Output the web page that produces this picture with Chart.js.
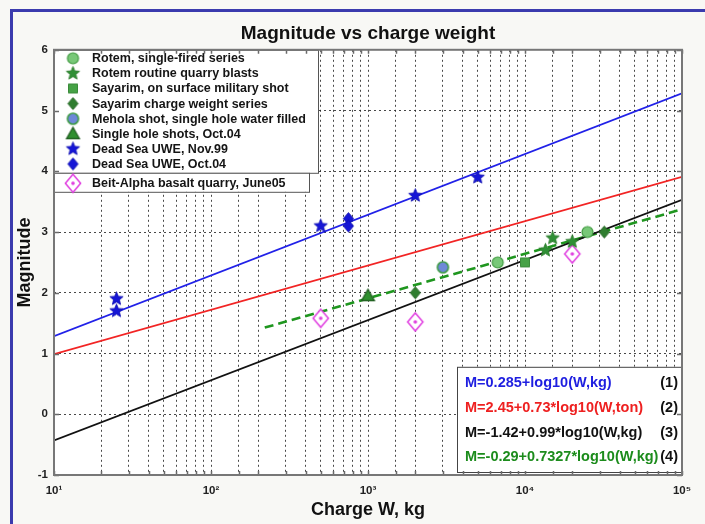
<!DOCTYPE html>
<html>
<head>
<meta charset="utf-8">
<script src="https://cdn.jsdelivr.net/npm/chart.js@4.4.1/dist/chart.umd.min.js"></script>
<style>
  html, body { margin: 0; padding: 0; background: #f8f8f5; }
  #wrap { position: relative; width: 705px; height: 524px; overflow: hidden; }
  #frame { position: absolute; left: 10px; top: 9px; width: 760px; height: 580px;
           border-left: 3px solid #3b3bae; border-top: 3px solid #3b3bae; box-sizing: border-box; }
  #c { position: absolute; left: 0; top: 0; }
</style>
</head>
<body>
<div id="wrap">
  <div id="frame"></div>
  <canvas id="c" width="705" height="524"></canvas>
</div>
<script>
// ---- measured events: charge W (kg) and magnitude M ----
const rotemSingleW   = [6700, 25000];
const rotemSingleM   = [2.50, 3.00];
const rotemQuarryW   = [13500, 15000, 20000];
const rotemQuarryM   = [2.70, 2.90, 2.84];
const sayarimSurfW   = [10000];
const sayarimSurfM   = [2.50];
const sayarimSeriesW = [2000, 32000];
const sayarimSeriesM = [2.00, 3.00];
const meholaW        = [3000];
const meholaM        = [2.42];
const singleHoleW    = [1000];
const singleHoleM    = [1.95];
const deadSea99W     = [25, 25, 500, 2000, 5000];
const deadSea99M     = [1.90, 1.70, 3.10, 3.60, 3.90];
const deadSea04W     = [750, 750];
const deadSea04M     = [3.22, 3.10];
const beitAlphaW     = [500, 2000, 20000];
const beitAlphaM     = [1.58, 1.52, 2.64];

// ---- magnitude relations M = a + b*log10(W / unit) ----
const fitLabels     = ['M=0.285+log10(W,kg)', 'M=2.45+0.73*log10(W,ton)',
                       'M=-1.42+0.99*log10(W,kg)', 'M=-0.29+0.7327*log10(W,kg)'];
const fitTags       = ['(1)', '(2)', '(3)', '(4)'];
const fitIntercepts = [0.285, 2.45, -1.42, -0.29];
const fitSlopes     = [1, 0.73, 0.99, 0.7327];
const fitUnits      = [1, 1000, 1, 1];       // kg per unit of W in each relation
const fitFromW      = [10, 10, 10, 220];
const fitToW        = [1e5, 1e5, 1e5, 1e5];

// ---- axes ----
const xMin = 10, xMax = 1e5;
const yMin = -1, yMax = 6;
const chartTitle = 'Magnitude vs charge weight';
const xTitle = 'Charge W, kg';
const yTitle = 'Magnitude';

const FONT = '"Liberation Sans", Arial, Helvetica, sans-serif';
const SUP = ['\u2070', '\u00b9', '\u00b2', '\u00b3', '\u2074', '\u2075', '\u2076'];

function marker(shape, r, fill, stroke, lw, dot) {
  const s = Math.ceil(2 * r + lw + 4);
  const c = document.createElement('canvas');
  c.width = s; c.height = s;
  const g = c.getContext('2d');
  const cx = s / 2, cy = s / 2;
  g.beginPath();
  if (shape === 'circle') g.arc(cx, cy, r, 0, Math.PI * 2);
  else if (shape === 'square') g.rect(cx - r, cy - r, 2 * r, 2 * r);
  else if (shape === 'diamond') {
    g.moveTo(cx, cy - r); g.lineTo(cx + r * 0.85, cy); g.lineTo(cx, cy + r); g.lineTo(cx - r * 0.85, cy); g.closePath();
  } else if (shape === 'triangle') {
    g.moveTo(cx, cy - r); g.lineTo(cx + r, cy + r * 0.75); g.lineTo(cx - r, cy + r * 0.75); g.closePath();
  } else if (shape === 'star') {
    for (let i = 0; i < 10; i++) {
      const ang = -Math.PI / 2 + i * Math.PI / 5;
      const rr = i % 2 ? r * 0.45 : r;
      g.lineTo(cx + rr * Math.cos(ang), cy + rr * Math.sin(ang));
    }
    g.closePath();
  }
  if (fill) { g.fillStyle = fill; g.fill(); }
  if (stroke) { g.strokeStyle = stroke; g.lineWidth = lw; g.stroke(); }
  if (dot) { g.beginPath(); g.arc(cx, cy, 1.8, 0, Math.PI * 2); g.fillStyle = dot; g.fill(); }
  return c;
}

const pts = (ws, ms) => ws.map((w, i) => ({ x: w, y: ms[i] }));

const groups = [
  { label: 'Rotem, single-fired series',            w: rotemSingleW,   m: rotemSingleM,   img: marker('circle', 5.5, '#78c878', '#3f9a3f', 1.2) },
  { label: 'Rotem routine quarry blasts',           w: rotemQuarryW,   m: rotemQuarryM,   img: marker('star', 7, '#2f8f35', '#2a7a2a', 0.8) },
  { label: 'Sayarim, on surface military shot',     w: sayarimSurfW,   m: sayarimSurfM,   img: marker('square', 4.5, '#46a246', '#3a8a3a', 1) },
  { label: 'Sayarim charge weight series',          w: sayarimSeriesW, m: sayarimSeriesM, img: marker('diamond', 6, '#2f7d2f', '#2a6a2a', 1) },
  { label: 'Mehola shot, single hole water filled', w: meholaW,        m: meholaM,        img: marker('circle', 5.5, '#6e88d8', '#3d9a45', 1.6) },
  { label: 'Single hole shots, Oct.04',             w: singleHoleW,    m: singleHoleM,    img: marker('triangle', 6.5, '#2f8f2f', '#1f5a1f', 1.2) },
  { label: 'Dead Sea UWE, Nov.99',                  w: deadSea99W,     m: deadSea99M,     img: marker('star', 7, '#1616d6', '#1010b0', 0.8) },
  { label: 'Dead Sea UWE, Oct.04',                  w: deadSea04W,     m: deadSea04M,     img: marker('diamond', 6, '#1616d6', '#1010b0', 1) },
  { label: 'Beit-Alpha basalt quarry, June05',      w: beitAlphaW,     m: beitAlphaM,     img: marker('diamond', 9, '#ffffff', '#e03ee0', 1.5, '#e03ee0') }
];

const fitColors = ['#2121e8', '#f22424', '#111111', '#1f961f'];
const fitTextColors = ['#1e1ee0', '#ee2020', '#111111', '#1c8c1c'];

const datasets = [];
groups.forEach(gp => {
  datasets.push({
    type: 'scatter', label: gp.label, data: pts(gp.w, gp.m),
    pointStyle: gp.img, pointRadius: 6, pointHoverRadius: 6, order: 1
  });
});
fitIntercepts.forEach((a, i) => {
  const f = w => a + fitSlopes[i] * Math.log10(w / fitUnits[i]);
  datasets.push({
    type: 'line', label: fitLabels[i],
    data: [{ x: fitFromW[i], y: f(fitFromW[i]) }, { x: fitToW[i], y: f(fitToW[i]) }],
    borderColor: fitColors[i], borderWidth: i === 3 ? 2.6 : 1.8,
    borderDash: i === 3 ? [9, 5] : [], pointRadius: 0, fill: false, order: 2
  });
});

// white plot area
const plotBackground = {
  id: 'plotBackground',
  beforeDraw(chart) {
    const { ctx, chartArea: a } = chart;
    ctx.save();
    ctx.fillStyle = '#ffffff';
    ctx.fillRect(a.left, a.top, a.right - a.left, a.bottom - a.top);
    ctx.restore();
  }
};

// legend panels and relation box drawn inside the axes
const panels = {
  id: 'panels',
  afterDatasetsDraw(chart) {
    const { ctx, chartArea: a } = chart;
    ctx.save();
    // marker legend
    const L = a.left, T = a.top;
    ctx.fillStyle = '#ffffff';
    ctx.strokeStyle = '#555555';
    ctx.lineWidth = 1;
    ctx.fillRect(L, T, 264, 123);
    ctx.strokeRect(L + 0.5, T + 0.5, 264, 123);
    ctx.fillRect(L, T + 123, 255, 19);
    ctx.strokeRect(L + 0.5, T + 123.5, 255, 19);
    ctx.font = 'bold 12.5px ' + FONT;
    ctx.textBaseline = 'middle';
    ctx.fillStyle = '#151515';
    groups.forEach((gp, i) => {
      const y = i < 8 ? T + 8.5 + i * 15.1 : T + 133.5;
      ctx.drawImage(gp.img, L + 19 - gp.img.width / 2, y - gp.img.height / 2);
      ctx.fillText(gp.label, L + 38, y + 0.5);
    });
    // relation box
    const bl = a.right - 225, bt = a.top + 317, br = a.right - 1, bb = a.bottom - 3;
    ctx.fillStyle = '#ffffff';
    ctx.fillRect(bl, bt, br - bl, bb - bt);
    ctx.strokeStyle = '#444444';
    ctx.strokeRect(bl + 0.5, bt + 0.5, br - bl, bb - bt);
    ctx.font = 'bold 14.5px ' + FONT;
    fitLabels.forEach((t, i) => {
      const y = bt + 16.5 + i * 24.7;
      ctx.textAlign = 'left';
      ctx.fillStyle = fitTextColors[i];
      ctx.fillText(t, bl + 8, y);
      ctx.textAlign = 'right';
      ctx.fillStyle = '#111111';
      ctx.fillText(fitTags[i], br - 3, y);
    });
    ctx.restore();
  }
};

// closed axes box with inward tick marks
const axesBox = {
  id: 'axesBox',
  afterDraw(chart) {
    const { ctx, chartArea: a, scales } = chart;
    ctx.save();
    ctx.strokeStyle = '#6a6a6a';
    ctx.lineWidth = 1.5;
    scales.x.ticks.forEach(t => {
      const px = Math.round(scales.x.getPixelForValue(t.value)) + 0.5;
      ctx.beginPath();
      ctx.moveTo(px, a.bottom); ctx.lineTo(px, a.bottom - 4);
      ctx.moveTo(px, a.top); ctx.lineTo(px, a.top + 4);
      ctx.stroke();
    });
    scales.y.ticks.forEach(t => {
      const py = Math.round(scales.y.getPixelForValue(t.value)) + 0.5;
      ctx.beginPath();
      ctx.moveTo(a.left, py); ctx.lineTo(a.left + 5, py);
      ctx.moveTo(a.right, py); ctx.lineTo(a.right - 5, py);
      ctx.stroke();
    });
    ctx.lineWidth = 2;
    ctx.strokeStyle = '#777777';
    ctx.strokeRect(a.left, a.top, a.right - a.left, a.bottom - a.top);
    ctx.restore();
  }
};

Chart.defaults.font.family = FONT;
Chart.defaults.color = '#1a1a1a';

new Chart(document.getElementById('c'), {
  type: 'scatter',
  data: { datasets },
  plugins: [plotBackground, panels, axesBox],
  options: {
    responsive: false,
    animation: false,
    events: [],
    layout: { padding: { left: 0, right: 23, top: 0, bottom: 0 } },
    plugins: {
      legend: { display: false },
      tooltip: { enabled: false },
      title: {
        display: true, text: chartTitle, color: '#111111', fullSize: false,
        font: { family: FONT, size: 19, weight: 'bold' },
        padding: { top: 22, bottom: 5 }
      }
    },
    scales: {
      x: {
        type: 'logarithmic', min: xMin, max: xMax,
        afterFit(s) { s.height = 49; },
        grid: { color: 'rgba(40,40,40,0.85)', lineWidth: 1, drawTicks: false },
        border: { display: false, dash: [2, 3] },
        ticks: {
          autoSkip: false, maxRotation: 0, padding: 9,
          font: { size: 11.5, weight: 'bold' }, color: '#222222',
          callback(v) {
            const e = Math.log10(v);
            return Math.abs(e - Math.round(e)) < 1e-9 ? '10' + SUP[Math.round(e)] : '';
          }
        },
        title: { display: true, text: xTitle, color: '#111111',
                 font: { size: 18, weight: 'bold' }, padding: { top: 0, bottom: 3 } }
      },
      y: {
        min: yMin, max: yMax,
        afterFit(s) { s.width = 54; },
        grid: { color: 'rgba(40,40,40,0.85)', lineWidth: 1, drawTicks: false },
        border: { display: false, dash: [2, 3] },
        ticks: { stepSize: 1, padding: 6, font: { size: 11.5, weight: 'bold' }, color: '#222222' },
        title: { display: true, text: yTitle, color: '#111111',
                 font: { size: 18, weight: 'bold' }, padding: { top: 14, bottom: 0 } }
      }
    }
  }
});
</script>
</body>
</html>
